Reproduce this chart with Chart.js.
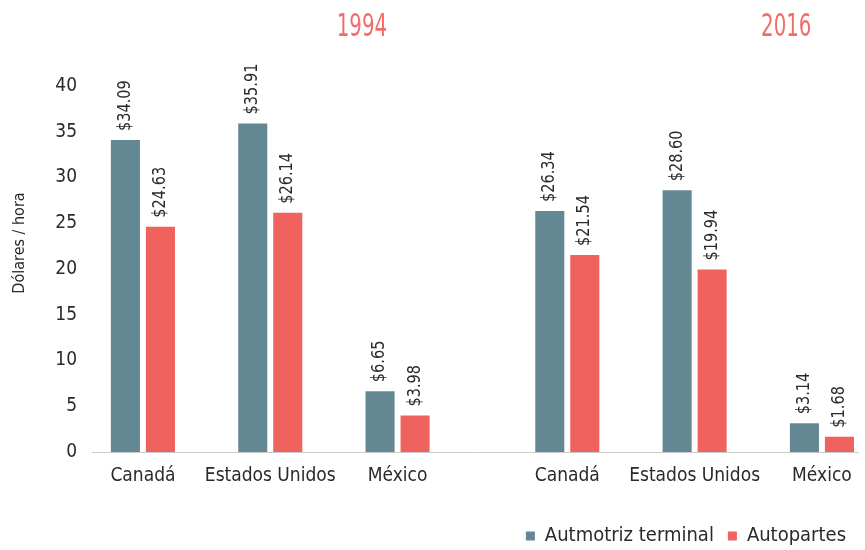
<!DOCTYPE html>
<html>
<head>
<meta charset="utf-8">
<script src="https://cdn.jsdelivr.net/npm/chart.js@4.4.1/dist/chart.umd.min.js"></script>
<style>
html,body{margin:0;padding:0;background:#fff;}
#wrap{width:865px;height:550px;position:relative;}
</style>
</head>
<body>
<div id="wrap"><canvas id="c" width="865" height="550"></canvas></div>
<script>
// ---- data ----
const years = ['1994', '2016'];
const countries = ['Canadá', 'Estados Unidos', 'México'];
const automotrizTerminal = [34.09, 35.91, 6.65, 26.34, 28.60, 3.14];
const autopartes = [24.63, 26.14, 3.98, 21.54, 19.94, 1.68];
const yTicks = [0, 5, 10, 15, 20, 25, 30, 35, 40];
const seriesNames = ['Autmotriz terminal', 'Autopartes'];
const yTitle = 'Dólares / hora';

// ---- layout helpers (positions derived from indices) ----
const categories = [];
years.forEach(() => countries.forEach(c => categories.push(c)));
const yearGap = 0.333;
const xPos = categories.map((c, i) => i + 1 + Math.floor(i / countries.length) * yearGap);

const FONT = "'DejaVu Sans Condensed', 'DejaVu Sans', sans-serif";
const TEXT = '#2a2a2a';
const TEAL = '#648893';
const RED = '#f0625d';

const labelPlugin = {
  id: 'barLabels',
  afterDatasetsDraw(chart) {
    const ctx = chart.ctx;
    ctx.save();
    ctx.font = '17px ' + FONT;
    ctx.fillStyle = TEXT;
    chart.data.datasets.forEach((ds, di) => {
      const meta = chart.getDatasetMeta(di);
      meta.data.forEach((bar, i) => {
        const v = ds.data[i].y;
        ctx.save();
        ctx.translate(bar.x, bar.y - 9);
        ctx.rotate(-Math.PI / 2);
        ctx.scale(0.95, 1);
        ctx.textAlign = 'left';
        ctx.textBaseline = 'middle';
        ctx.fillText('$' + v.toFixed(2), 0, 0);
        ctx.restore();
      });
    });
    ctx.restore();
  }
};

const textPlugin = {
  id: 'extraTexts',
  afterDraw(chart) {
    const ctx = chart.ctx;
    const xs = chart.scales.x;
    ctx.save();
    ctx.font = '22px ' + FONT;
    ctx.fillStyle = '#f26d6a';
    ctx.textAlign = 'center';
    ctx.textBaseline = 'middle';
    years.forEach((yr, k) => {
      const last = xPos[(k + 1) * countries.length - 1];
      const prev = xPos[(k + 1) * countries.length - 2];
      const x = xs.getPixelForValue((last + prev) / 2 + 0.22);
      ctx.save();
      ctx.translate(x, 28);
      ctx.scale(1, 1.45);
      ctx.fillText(yr, 0, 0);
      ctx.restore();
    });
    // y axis title
    ctx.font = '16px ' + FONT;
    ctx.fillStyle = TEXT;
    ctx.save();
    ctx.translate(20, 243);
    ctx.rotate(-Math.PI / 2);
    ctx.fillText(yTitle, 0, 0);
    ctx.restore();
    ctx.restore();
  }
};

new Chart(document.getElementById('c'), {
  type: 'bar',
  data: {
    datasets: [
      {
        label: seriesNames[0],
        data: automotrizTerminal.map((v, i) => ({x: xPos[i], y: v})),
        backgroundColor: TEAL,
        categoryPercentage: 0.55,
        barPercentage: 0.83
      },
      {
        label: seriesNames[1],
        data: autopartes.map((v, i) => ({x: xPos[i], y: v})),
        backgroundColor: RED,
        categoryPercentage: 0.55,
        barPercentage: 0.83
      }
    ]
  },
  options: {
    responsive: false,
    animation: false,
    devicePixelRatio: 1,
    layout: {padding: {top: 86, right: 5, left: 0, bottom: -6}},
    plugins: {
      tooltip: {enabled: false},
      legend: {
        position: 'bottom',
        align: 'end',
        labels: {
          boxWidth: 9,
          boxHeight: 9,
          padding: 14,
          color: TEXT,
          font: {family: FONT, size: 20}
        }
      }
    },
    scales: {
      x: {
        type: 'linear',
        offset: false,
        min: 0.6,
        max: 6.62,
        grid: {display: false, drawTicks: false},
        border: {display: true, color: '#cccccc', width: 1},
        afterBuildTicks(scale) {
          scale.ticks = xPos.map(v => ({value: v}));
        },
        afterFit(scale) { scale.height = 60; },
        ticks: {
          autoSkip: false,
          maxRotation: 0,
          padding: 13,
          color: TEXT,
          font: {family: FONT, size: 19},
          callback(value, index) { return categories[index]; }
        }
      },
      y: {
        min: 0,
        max: 40,
        afterBuildTicks(scale) {
          scale.ticks = yTicks.map(v => ({value: v}));
        },
        afterFit(scale) { scale.width = 92; },
        grid: {display: false, drawTicks: false},
        border: {display: false},
        ticks: {
          padding: 15,
          color: TEXT,
          font: {family: FONT, size: 19}
        }
      }
    }
  },
  plugins: [labelPlugin, textPlugin]
});
</script>
</body>
</html>
